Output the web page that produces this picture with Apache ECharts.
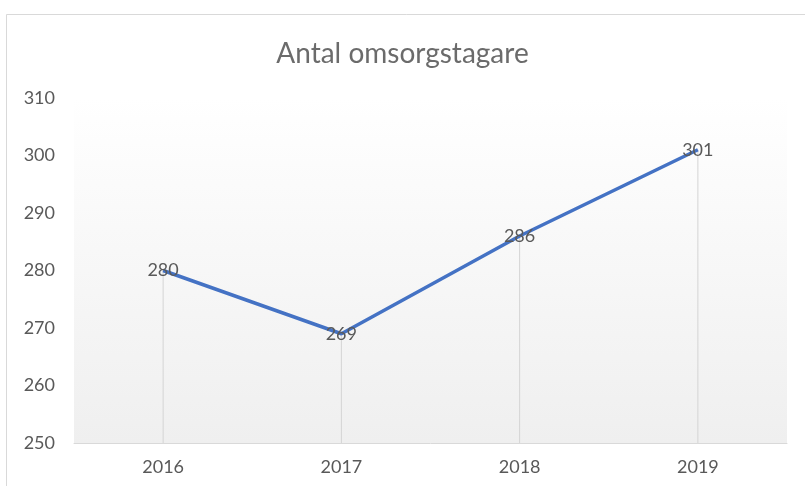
<!DOCTYPE html>
<html>
<head>
<meta charset="utf-8">
<script src="https://cdn.jsdelivr.net/npm/echarts@6/dist/echarts.min.js"></script>
<style>
  html, body { margin: 0; padding: 0; background: #fff; }
  #main { width: 805px; height: 486px; }
</style>
</head>
<body>
<div id="main"></div>
<script>
var years = ['2016', '2017', '2018', '2019'];
var counts = [280, 269, 286, 301];
var yMin = 250, yMax = 310, yStep = 10;

var chart = echarts.init(document.getElementById('main'));

var option = {
    backgroundColor: '#fff',
    animation: false,
    title: {
        text: 'Antal omsorgstagare',
        left: 'center',
        top: 35,
        textStyle: {
            fontFamily: 'Lato',
            fontWeight: 'normal',
            fontSize: 28,
            color: '#6b6b6b'
        }
    },
    graphic: [{
        type: 'rect',
        shape: { x: 6.5, y: 14.5, width: 830, height: 500 },
        style: { fill: 'none', stroke: '#d9d9d9', lineWidth: 1 },
        z: -1
    }],
    grid: {
        left: 74,
        right: 18,
        top: 98,
        bottom: 43,
        show: true,
        borderWidth: 0,
        backgroundColor: {
            type: 'linear', x: 0, y: 0, x2: 0, y2: 1,
            colorStops: [
                { offset: 0, color: '#ffffff' },
                { offset: 1, color: '#efefef' }
            ]
        }
    },
    xAxis: {
        type: 'category',
        data: years,
        boundaryGap: true,
        axisLine: { lineStyle: { color: '#d9d9d9', width: 1 } },
        axisTick: { show: false },
        axisLabel: {
            margin: 15,
            fontFamily: 'Lato',
            fontSize: 18,
            color: '#595959'
        }
    },
    yAxis: {
        type: 'value',
        min: yMin,
        max: yMax,
        interval: yStep,
        axisLine: { show: false },
        axisTick: { show: false },
        splitLine: { show: false },
        axisLabel: {
            margin: 19,
            fontFamily: 'Lato',
            fontSize: 18,
            color: '#595959'
        }
    },
    series: [{
        // drop lines from the points down to the axis
        type: 'bar',
        data: counts,
        barWidth: 1,
        silent: true,
        itemStyle: { color: '#d4d4d4' },
        z: 1
    }, {
        type: 'line',
        data: counts,
        showSymbol: true,
        symbol: 'circle',
        symbolSize: 0.1,
        lineStyle: { color: '#4472c4', width: 3.5 },
        itemStyle: { color: '#4472c4' },
        label: {
            show: true,
            position: [0, 0],
            align: 'center',
            verticalAlign: 'middle',
            fontFamily: 'Lato',
            fontSize: 18,
            color: '#595959'
        },
        z: 3
    }]
};

chart.setOption(option);
</script>
</body>
</html>
